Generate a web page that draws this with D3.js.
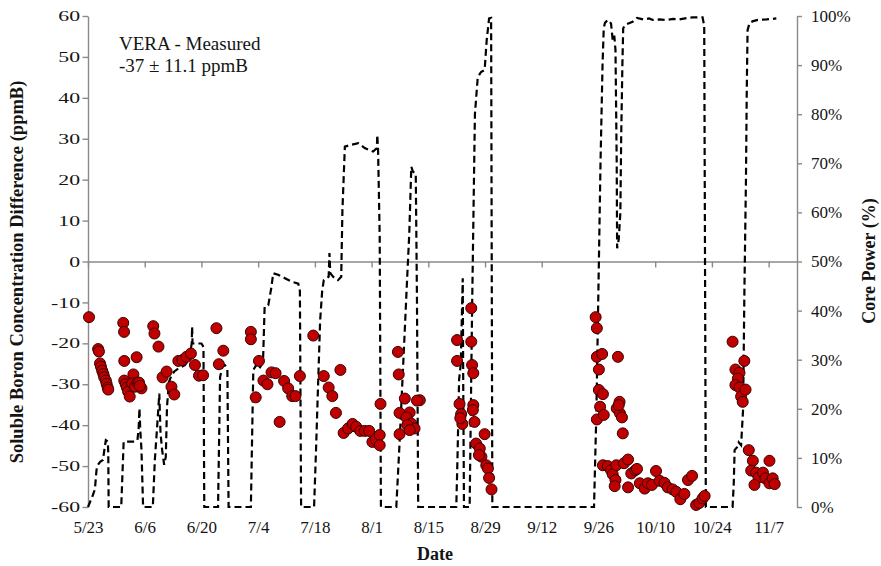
<!DOCTYPE html>
<html>
<head>
<meta charset="utf-8">
<script src="https://cdn.jsdelivr.net/npm/d3@7"></script>
<style>
  body { margin: 0; background: #fff; }
  svg { display: block; font-family: "Liberation Serif", "Times New Roman", serif; }
</style>
</head>
<body>
<svg id="chart" width="881" height="566"></svg>
<script>
// ---- data ----
const startDate = "2009-05-23";
const endDate = "2009-11-14";
const tickDates = ["2009-05-23", "2009-06-06", "2009-06-20", "2009-07-04", "2009-07-18",
  "2009-08-01", "2009-08-15", "2009-08-29", "2009-09-12", "2009-09-26",
  "2009-10-10", "2009-10-24", "2009-11-07"];
const boronTicks = [60, 50, 40, 30, 20, 10, 0, -10, -20, -30, -40, -50, -60];
const powerTicks = [0, 0.1, 0.2, 0.3, 0.4, 0.5, 0.6, 0.7, 0.8, 0.9, 1.0];

// measured boron difference (ppmB), sampled in days after startDate
const boronDay = [
  0.25, 2.5, 2.7, 2.96, 3.2, 3.5, 3.8, 4.0, 4.4, 4.6, 4.85, 5.0,
  8.7, 8.9, 8.95, 12.0, 8.95, 9.3, 9.6, 9.9, 10.3, 11.2, 10.9, 11.6, 12.2, 12.6, 13.2, 12.8,
  16.1, 16.4, 17.4, 18.4, 19.4, 20.6, 21.3, 22.3, 23.3, 24.3, 25.4, 26.4, 27.4, 28.4,
  31.7, 33.4, 32.3,
  40.2, 40.2, 41.4, 42.2, 43.3, 44.3, 45.3, 46.3, 48.4, 49.4, 50.4, 51.2, 47.3, 52.3,
  55.6, 58.2, 62.3, 59.4, 60.3, 61.2, 63.1, 64.2, 65.3, 66.2, 67.2, 68.3, 69.4, 70.2, 71.0, 72.0, 72.0, 72.2,
  76.5, 76.7, 78.2, 76.9, 79.4, 78.6, 79.8, 80.6, 78.8, 76.9, 79.4, 81.9, 81.2,
  91.1, 91.1, 91.7, 92.1, 92.4, 91.9,
  94.6, 94.6, 94.8, 95.1, 95.1, 95.0, 95.4, 97.9, 95.8, 96.7, 97.1, 96.5, 98.3, 98.7, 99.0, 99.6,
  125.3, 125.6, 125.6, 126.9, 126.1, 126.1, 127.1, 126.4, 125.6, 127.3,
  130.8, 131.2, 130.5, 131.3, 131.8, 131.0, 132.0,
  127.1, 128.3, 129.1, 129.5, 130.4, 130.2, 130.0, 132.3, 133.3, 133.3, 134.1, 135.1, 135.5,
  136.2, 137.4, 138.2, 139.2, 140.2, 141.1, 142.3, 143.1, 144.3, 145.2, 146.2, 147.2, 148.1, 149.1,
  150.1, 150.9, 151.7, 152.2,
  159.1, 159.8, 160.8, 160.4, 159.8, 160.8, 161.2, 161.6, 162.3, 162.0,
  163.1, 164.1, 163.7, 164.9, 165.5, 164.5, 166.6, 167.2, 168.2, 168.2, 169.0, 169.5
];
const boronDiff = [
  -13.6, -21.4, -22.0, -24.9, -25.7, -26.7, -27.5, -28.3, -29.1, -29.9, -30.8, -31.3,
  -15.0, -17.2, -24.3, -23.4, -29.1, -30.0, -30.8, -31.8, -33.0, -27.6, -29.8, -30.6, -29.6, -29.6, -31.0, -30.4,
  -15.8, -17.6, -20.8, -28.3, -26.9, -30.6, -32.5, -24.3, -24.1, -23.3, -22.5, -25.3, -27.9, -27.8,
  -16.3, -21.8, -25.1,
  -17.2, -19.0, -33.2, -24.3, -29.1, -30.0, -27.1, -27.3, -29.2, -31.0, -32.9, -32.9, -39.2, -28.0,
  -18.1, -28.0, -26.5, -30.8, -32.9, -37.0, -41.9, -40.8, -39.7, -40.4, -41.4, -41.4, -41.4, -44.1, -43.5, -42.4, -44.9, -34.8,
  -22.1, -27.6, -33.5, -37.0, -36.9, -38.1, -39.6, -40.8, -40.0, -42.2, -41.2, -33.9, -34.0,
  -19.2, -24.3, -34.8, -37.3, -39.7, -38.3,
  -11.4, -19.6, -25.3, -27.3, -35.1, -36.3, -39.2, -42.2, -44.5, -45.7, -47.7, -47.3, -49.8, -50.6, -52.9, -55.7,
  -13.6, -16.3, -23.3, -22.6, -26.4, -31.4, -32.4, -35.5, -38.6, -37.5,
  -23.3, -34.3, -35.9, -37.1, -38.1, -35.1, -42.0,
  -49.8, -50.0, -51.0, -52.0, -49.8, -53.4, -54.9, -49.3, -48.4, -55.2, -51.8, -51.0, -50.7,
  -54.2, -55.5, -54.2, -54.6, -51.2, -53.6, -54.1, -55.2, -55.7, -56.3, -58.1, -56.8, -53.4, -52.4,
  -59.5, -59.0, -57.9, -57.3,
  -19.6, -26.4, -27.2, -28.6, -30.2, -30.8, -33.0, -34.3, -31.3, -24.3,
  -46.1, -48.7, -51.1, -51.6, -52.8, -54.6, -51.6, -53.0, -48.7, -54.2, -53.0, -54.4
];

// core power history (% of rated), days after startDate
const powerDay = [
  0, 0.6, 1.2, 1.7, 2.1, 2.3, 3.0, 3.7, 4.1, 4.4, 4.9, 5.0, 5.1,
  8.2, 8.8, 11.6, 12.2, 12.5, 12.7, 12.9, 13.2, 13.6,
  16.0, 16.5, 17.2, 17.6, 17.9, 18.3, 18.8, 19.2, 19.5, 20.0, 20.6, 21.3, 22.3, 23.9, 25.0, 25.6, 25.7, 25.8, 28.0, 28.5, 28.7,
  32.1, 32.6, 33.2, 33.8, 34.4, 34.7,
  40.2, 40.8, 41.6, 42.3, 43.2, 43.6, 44.5, 45.3, 45.7, 46.9, 48.6, 50.2, 51.9, 52.3, 52.6,
  55.8, 56.3, 56.6, 57.3, 57.8, 58.2, 58.9, 59.4, 59.6, 59.8, 60.5, 61.7, 62.5, 62.8, 63.4, 64.6, 66.7, 68.3, 70.4, 71.3, 71.4, 71.6, 72.0, 72.3,
  76.1, 76.9, 78.3, 78.6, 79.3, 79.8, 80.2, 80.9, 81.2, 81.5,
  90.9, 91.2, 91.6, 92.0, 92.5, 92.6, 92.8,
  94.2, 94.8, 95.5, 96.2, 97.0, 97.9, 98.4, 99.0, 99.5, 99.8,
  124.9, 125.5, 126.0, 126.5, 127.0, 127.3, 127.6, 128.3, 129.1, 129.5, 129.9, 130.2, 130.5, 130.6, 131.0, 131.4, 131.6, 131.9, 132.1, 132.6,
  134.4, 135.5, 137.0, 138.5, 139.4, 141.0, 142.7, 144.5, 146.0, 148.0, 149.3, 151.7, 152.1, 152.5,
  159.1, 159.4, 159.6, 160.2, 160.6, 161.2, 161.7, 162.0, 162.4, 162.6, 162.8, 163.3, 164.0, 165.3, 167.5, 169.9
];
const powerPct = [
  0, 1.2, 2.4, 3.6, 7.5, 8.4, 9.2, 9.6, 12, 13.6, 13.3, 11, 0,
  0, 13.3, 13.3, 13.6, 16, 20.1, 15.7, 11.6, 0,
  0, 9.6, 18, 23.1, 15, 11.6, 8.6, 10.2, 20.5, 25.5, 26.8, 27.6, 28.2, 28.9, 30.2, 33.3, 36.7, 33.3, 33.3, 32.6, 0,
  0, 26.5, 28.6, 28.9, 28.2, 0,
  0, 27.9, 29.0, 28.2, 29.6, 40.8, 41.1, 44.9, 47.6, 47.3, 46.6, 45.9, 45.5, 44.0, 0,
  0, 12, 20, 38, 44, 46.2, 46.6, 46.9, 51.7, 47.6, 46.9, 46.2, 46.9, 60.5, 73.4, 73.7, 74.1, 73.1, 72.4, 73.1, 75.8, 72.7, 55, 0,
  0, 13, 38, 43.5, 55.7, 69.3, 68.3, 67.9, 42, 0,
  0, 10, 26, 29, 46.6, 28, 0,
  0, 40, 80, 87.5, 88.6, 89, 95, 99.5, 99.6, 0,
  0, 20, 45, 70, 90, 97.5, 98.6, 99.2, 98.5, 95.1, 96, 93, 70, 52.7, 54.5, 60, 75, 90, 97.5, 98.2,
  98.8, 99.6, 99.3, 99.5, 99.2, 99.3, 99.2, 99.4, 99.3, 99.6, 99.7, 99.7, 98, 0,
  0, 5, 11.6, 12.2, 13.2, 12.6, 20, 42.8, 66.6, 85, 97.1, 98.6, 98.9, 99.2, 99.3, 99.5
];

// ---- scales ----
const parse = d3.utcParse("%Y-%m-%d");
const t0 = parse(startDate);
const dayToDate = d => new Date(t0.getTime() + d * 864e5);

const x = d3.scaleUtc().domain([t0, parse(endDate)]).range([88, 797]);
const yL = d3.scaleLinear().domain([-60, 60]).range([507, 16]);
const yR = d3.scaleLinear().domain([0, 1]).range([507, 16]);

const svg = d3.select("#chart");
const axisColor = "#8a8a8a";
const textColor = "#141414";

function styleAxis(g) {
  g.selectAll(".domain").attr("stroke", axisColor).attr("stroke-width", 1.4);
  g.selectAll(".tick line").attr("stroke", axisColor).attr("stroke-width", 1.4);
  g.selectAll("text").attr("fill", textColor).attr("font-family", "Liberation Serif, Times New Roman, serif");
}

// left axis
const gL = svg.append("g").attr("transform", "translate(88,0)")
  .call(d3.axisLeft(yL).tickValues(boronTicks).tickSize(5.5).tickSizeOuter(0)
    .tickFormat(d => String(d)));
styleAxis(gL);
gL.selectAll("text").attr("font-size", 14.5).attr("x", 0)
  .attr("transform", "translate(-8,0) scale(1.5,1)");

// right axis
const gR = svg.append("g").attr("transform", "translate(797,0)")
  .call(d3.axisRight(yR).tickValues(powerTicks).tickSize(5).tickSizeOuter(0).tickPadding(9)
    .tickFormat(d3.format(".0%")));
styleAxis(gR);
gR.selectAll("text").attr("font-size", 17);

// zero line with date ticks
const tickDateObjs = tickDates.map(parse);
const gZ = svg.append("g").attr("transform", `translate(0,${yL(0)})`)
  .call(d3.axisBottom(x).tickValues(tickDateObjs).tickSize(6).tickSizeOuter(0).tickFormat(""));
styleAxis(gZ);

// date labels along the bottom
const gB = svg.append("g").attr("transform", "translate(0,507)")
  .call(d3.axisBottom(x).tickValues(tickDateObjs).tickSize(0).tickPadding(14)
    .tickFormat(d3.utcFormat("%-m/%-d")));
gB.select(".domain").remove();
styleAxis(gB);
gB.selectAll("text").attr("font-size", 17);

// core power trace
const powerData = powerDay.map((d, i) => ({ date: dayToDate(d), v: powerPct[i] / 100 }));
svg.append("path")
  .datum(powerData)
  .attr("fill", "none")
  .attr("stroke", "#000")
  .attr("stroke-width", 2.2)
  .attr("stroke-dasharray", "7,4")
  .attr("d", d3.line().x(d => x(d.date)).y(d => yR(d.v)));

// boron measurements
const boronData = boronDay.map((d, i) => ({ date: dayToDate(d), v: boronDiff[i] }));
svg.append("g").selectAll("circle")
  .data(boronData)
  .join("circle")
  .attr("cx", d => x(d.date))
  .attr("cy", d => yL(d.v))
  .attr("r", 5.5)
  .attr("fill", "#c00000")
  .attr("stroke", "#3a0000")
  .attr("stroke-width", 1);

// annotation
const note = svg.append("g").attr("font-size", 19).attr("fill", textColor);
note.append("text").attr("x", 119).attr("y", 50).text("VERA - Measured");
note.append("text").attr("x", 119).attr("y", 72).text("-37 \u00b1 11.1 ppmB");

// axis titles
svg.append("text")
  .attr("transform", "translate(23,272) rotate(-90)")
  .attr("text-anchor", "middle").attr("font-weight", "bold").attr("font-size", 18.5)
  .attr("fill", textColor)
  .text("Soluble Boron Concentration Difference (ppmB)");

svg.append("text")
  .attr("transform", "translate(875,261) rotate(-90)")
  .attr("text-anchor", "middle").attr("font-weight", "bold").attr("font-size", 18)
  .attr("fill", textColor)
  .text("Core Power (%)");

svg.append("text")
  .attr("x", 435).attr("y", 560)
  .attr("text-anchor", "middle").attr("font-weight", "bold").attr("font-size", 18)
  .attr("fill", textColor)
  .text("Date");
</script>
</body>
</html>
